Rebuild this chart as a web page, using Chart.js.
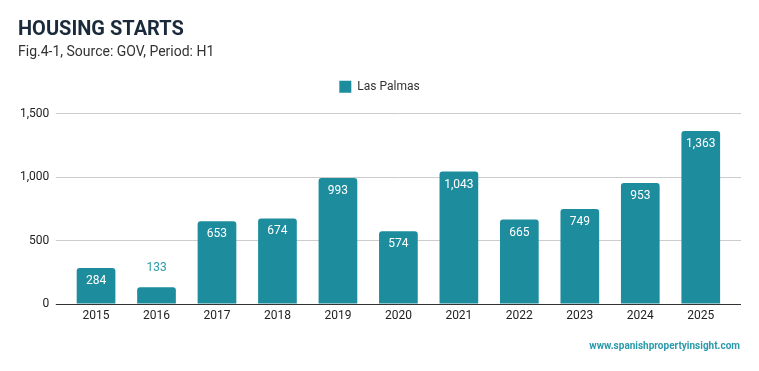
<!DOCTYPE html>
<html>
<head>
<meta charset="utf-8">
<script src="https://cdn.jsdelivr.net/npm/chart.js@4/dist/chart.umd.min.js"></script>
<style>
  html, body { margin: 0; padding: 0; background: #ffffff; }
  #wrap { width: 759px; height: 371px; position: relative; }
</style>
</head>
<body>
<div id="wrap"><canvas id="c"></canvas></div>
<script>
const categories = ['2015','2016','2017','2018','2019','2020','2021','2022','2023','2024','2025'];
const lasPalmas = [284, 133, 653, 674, 993, 574, 1043, 665, 749, 953, 1363];
const yTickValues = [0, 500, 1000, 1500];
const seriesName = 'Las Palmas';
const titleText = 'HOUSING STARTS';
const subtitleText = 'Fig.4-1, Source: GOV, Period: H1';
const sourceText = 'www.spanishpropertyinsight.com';

const TEAL = '#1d8d9e';
const GRID = '#cccccc';
const BASE = '#333333';

const gridColor = (ctx) => (ctx.tick && ctx.tick.value === 0) ? BASE : GRID;

const legendSpacer = {
  id: 'legendSpacer',
  beforeInit(chart) {
    const origFit = chart.legend.fit;
    chart.legend.fit = function () {
      origFit.call(this);
      this.height += 10.7;
    };
  }
};

const labelsPlugin = {
  id: 'barLabels',
  afterDatasetsDraw(chart) {
    const ctx = chart.ctx;
    const meta = chart.getDatasetMeta(0);
    ctx.save();
    ctx.font = '12px Roboto';
    ctx.textAlign = 'center';
    ctx.textBaseline = 'middle';
    meta.data.forEach((bar, i) => {
      const v = lasPalmas[i];
      const txt = v.toLocaleString('en-US');
      const h = bar.base - bar.y;
      if (h > 30) {
        ctx.fillStyle = '#ffffff';
        ctx.fillText(txt, bar.x, bar.y + 13);
      } else {
        ctx.fillStyle = '#2a9aab';
        ctx.fillText(txt, bar.x, bar.y - 19);
      }
    });
    ctx.restore();
  },
  afterDraw(chart) {
    const ctx = chart.ctx;
    ctx.save();
    ctx.font = 'bold 10px Roboto';
    ctx.fillStyle = '#2a9aab';
    ctx.textAlign = 'right';
    ctx.textBaseline = 'middle';
    ctx.fillText(sourceText, chart.scales.y2.right - 1, 346);
    ctx.restore();
  }
};

new Chart(document.getElementById('c'), {
  type: 'bar',
  data: {
    labels: categories,
    datasets: [{
      label: seriesName,
      data: lasPalmas,
      backgroundColor: TEAL,
      borderWidth: 0,
      borderRadius: 3,
      borderSkipped: 'start',
      categoryPercentage: 1.0,
      barPercentage: 0.64
    }]
  },
  plugins: [legendSpacer, labelsPlugin],
  options: {
    responsive: true,
    maintainAspectRatio: false,
    animation: false,
    layout: { padding: { left: 18, right: 18, top: 18, bottom: 42.5 } },
    plugins: {
      title: {
        display: true,
        text: titleText,
        align: 'start',
        color: '#1b2a3a',
        font: { family: 'Roboto', size: 20, weight: 'bold', lineHeight: 1.2 },
        padding: { top: 0, bottom: 2 }
      },
      subtitle: {
        display: true,
        text: subtitleText,
        align: 'start',
        color: '#333333',
        font: { family: 'Roboto', size: 14, weight: 'normal', lineHeight: 1.2 },
        padding: { top: 0, bottom: 10 }
      },
      legend: {
        display: true,
        position: 'top',
        labels: {
          color: '#333333',
          font: { family: 'Roboto', size: 12 },
          boxWidth: 12,
          boxHeight: 12,
          padding: 10
        }
      },
      tooltip: { enabled: false }
    },
    scales: {
      x: {
        grid: { display: false, drawTicks: false },
        border: { display: true, color: BASE, width: 1 },
        ticks: { color: '#222222', font: { family: 'Roboto', size: 12 }, padding: 5 }
      },
      y: {
        position: 'left',
        min: 0,
        max: 1500,
        afterBuildTicks(scale) { scale.ticks = yTickValues.map(v => ({ value: v })); },
        afterFit(scale) { scale.width = 47.8; },
        grid: { color: gridColor, tickColor: gridColor, drawTicks: true, tickLength: 10, lineWidth: 1 },
        border: { display: false },
        ticks: {
          color: '#222222',
          font: { family: 'Roboto', size: 12 },
          padding: 6.5,
          callback: (v) => Number(v).toLocaleString('en-US')
        }
      },
      y2: {
        position: 'right',
        min: 0,
        max: 1500,
        afterBuildTicks(scale) { scale.ticks = yTickValues.map(v => ({ value: v })); },
        grid: { drawOnChartArea: false, color: gridColor, tickColor: gridColor, drawTicks: true, tickLength: 10 },
        border: { display: false },
        ticks: { display: false }
      }
    }
  }
});
</script>
</body>
</html>
